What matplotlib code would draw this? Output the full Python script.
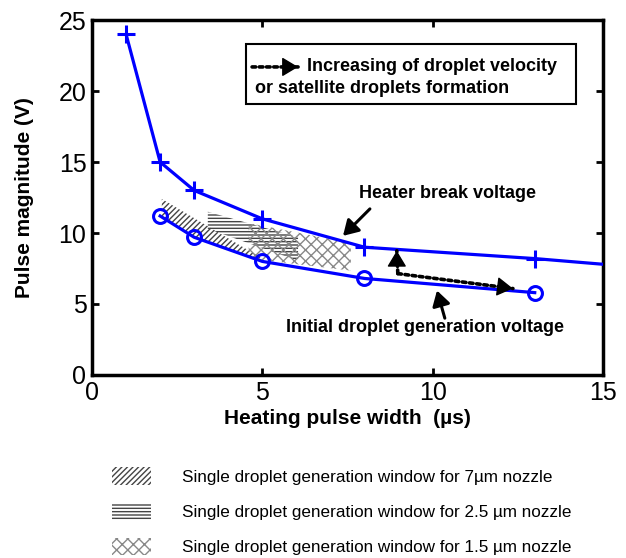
import matplotlib

matplotlib.use("Agg")

import matplotlib.pyplot as plt
from matplotlib.patches import Patch, Rectangle

plt.rcParams["font.family"] = ["Liberation Sans", "DejaVu Sans"]
plt.rcParams["hatch.linewidth"] = 1.0

# heater break voltage (last point lies beyond the axis and is clipped)
break_x = [1, 2, 3, 5, 8, 13, 16]
break_v = [24.0, 15.0, 13.0, 11.0, 9.0, 8.2, 7.6]

# initial droplet generation voltage
init_x = [2, 3, 5, 8, 13]
init_v = [11.2, 9.7, 8.0, 6.8, 5.8]

# single droplet generation windows (polygons)
win7_x = [2.05, 5.0, 5.0, 3.0, 2.05]
win7_v = [12.4, 8.2, 8.0, 9.7, 11.15]
win25_x = [3.4, 6.05, 6.05, 3.4]
win25_v = [11.5, 9.7, 8.05, 10.3]
win15_x = [4.6, 7.6, 7.6, 5.0, 4.6]
win15_v = [10.7, 9.3, 7.35, 8.1, 8.4]

window_labels = [
    "Single droplet generation window for 7\u00b5m nozzle",
    "Single droplet generation window for 2.5 \u00b5m nozzle",
    "Single droplet generation window for 1.5 \u00b5m nozzle",
]
window_hatches = ["//////", "-----", "xxx"]
window_colors = ["#444444", "#444444", "#888888"]

# dotted trend arrows: corner, tip going up, tip going right
trend_corner = (8.98, 7.14)
trend_up = (8.95, 8.75)
trend_right = (12.36, 6.09)

fig = plt.figure(figsize=(6.26, 5.58), dpi=100)
ax = fig.add_axes([0.147, 0.328, 0.816, 0.636])

for wx, wv, h, c in zip([win7_x, win25_x, win15_x], [win7_v, win25_v, win15_v],
                        window_hatches, window_colors):
    ax.fill(wx, wv, facecolor="none", edgecolor=c, hatch=h, linewidth=0, zorder=1)

ax.plot(break_x, break_v, color="#0000ff", lw=2.3, marker="+", ms=13, mew=2.2, zorder=3)
ax.plot(init_x, init_v, color="#0000ff", lw=2.3, marker="o", ms=10, mfc="none", mew=2.2, zorder=3)

ax.set_xlim(0, 15)
ax.set_ylim(0, 25)
ax.set_xticks([0, 5, 10, 15])
ax.set_yticks([0, 5, 10, 15, 20, 25])
ax.tick_params(direction="in", length=5, width=2, top=True, right=True, labelsize=18, pad=4)
for sp in ax.spines.values():
    sp.set_linewidth(2.5)

ax.set_xlabel("Heating pulse width  (\u00b5s)", fontsize=15, fontweight="bold", labelpad=3)
ax.set_ylabel("Pulse magnitude (V)", fontsize=15, fontweight="bold", labelpad=18)

# annotations
ax.text(10.45, 12.8, "Heater break voltage", ha="center", va="center", fontsize=13, fontweight="bold")
ax.annotate("", xy=(7.37, 9.8), xytext=(8.16, 11.7),
            arrowprops=dict(arrowstyle="-|>,head_length=0.5,head_width=0.3", color="k", lw=2.2,
                            mutation_scale=18, shrinkA=0, shrinkB=0))
ax.text(9.77, 3.36, "Initial droplet generation voltage", ha="center", va="center", fontsize=13,
        fontweight="bold")
ax.annotate("", xy=(10.13, 5.95), xytext=(10.36, 4.0),
            arrowprops=dict(arrowstyle="-|>,head_length=0.5,head_width=0.3", color="k", lw=2.2,
                            mutation_scale=18, shrinkA=0, shrinkB=0))

dot_line = dict(arrowstyle="-", color="k", lw=2.6, ls=(0, (1, 1)), shrinkA=0, shrinkB=0)
head = dict(arrowstyle="-|>,head_length=0.5,head_width=0.3", color="k", lw=1,
            mutation_scale=20, shrinkA=0, shrinkB=0)


def dotted_arrow(start, tip, back, zorder=4):
    ax.annotate("", xy=tip, xytext=start, arrowprops=dot_line, zorder=zorder)
    ax.annotate("", xy=tip, xytext=back, textcoords="offset pixels", arrowprops=head, zorder=zorder)


dotted_arrow(trend_corner, trend_up, (0, -10))
dotted_arrow(trend_corner, trend_right, (-9.9, 1.3))

# boxed note
ax.add_patch(Rectangle((4.52, 19.1), 9.68, 4.2, facecolor="white", edgecolor="k", lw=1.5, zorder=4))
dotted_arrow((4.7, 21.7), (6.05, 21.7), (-10, 0), zorder=5)
ax.text(6.31, 21.7, "Increasing of droplet velocity", ha="left", va="center",
        fontsize=13, fontweight="bold", zorder=5)
ax.text(4.78, 20.2, "or satellite droplets formation", ha="left", va="center",
        fontsize=13, fontweight="bold", zorder=5)

handles = [Patch(facecolor="white", edgecolor=c, hatch=h, linewidth=0)
           for h, c in zip(window_hatches, window_colors)]
fig.legend(handles, window_labels, loc="upper left", bbox_to_anchor=(0.179, 0.163),
           frameon=False, fontsize=12.3, handlelength=2.3, handleheight=1.2,
           labelspacing=1.05, handletextpad=1.8, borderaxespad=0, borderpad=0)

fig.savefig("out.png", dpi=100, facecolor="white")
